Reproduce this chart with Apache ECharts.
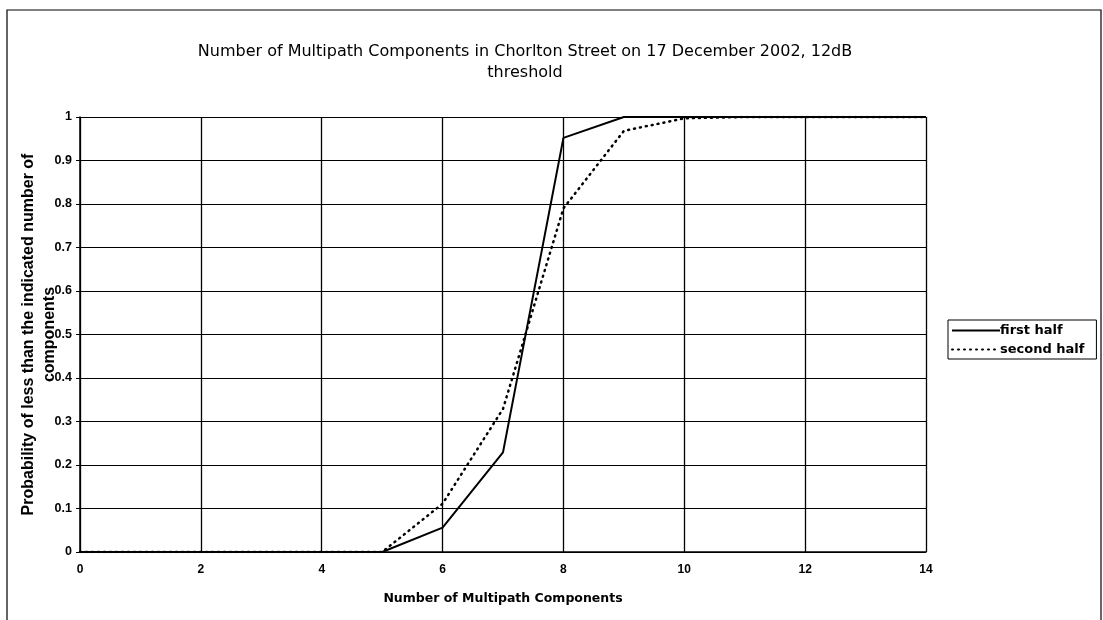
<!DOCTYPE html>
<html>
<head>
<meta charset="utf-8">
<script src="https://cdn.jsdelivr.net/npm/echarts@6/dist/echarts.min.js"></script>
<style>html,body{margin:0;padding:0;background:#fff;}#c{width:1103px;height:620px;}</style>
</head>
<body>
<div id="c"></div>
<script>
var xValues = [0, 1, 2, 3, 4, 5, 6, 7, 8, 9, 10, 11, 12, 13, 14];
var firstHalf = [0, 0, 0, 0, 0, 0, 0.056, 0.229, 0.952, 1.0, 1.0, 1.0, 1.0, 1.0, 1.0];
var secondHalf = [0, 0, 0, 0, 0, 0, 0.111, 0.329, 0.79, 0.968, 0.997, 1.0, 1.0, 1.0, 1.0];
var seriesNames = ['first half', 'second half'];
var titleText = 'Number of Multipath Components in Chorlton Street on 17 December 2002, 12dB\nthreshold';
var xAxisTitle = 'Number of Multipath Components';
var yAxisTitle = 'Probability of less than the indicated number of\ncomponents';

function pairs(xs, ys) { return xs.map(function (x, i) { return [x, ys[i]]; }); }

var chart = echarts.init(document.getElementById('c'));
chart.setOption({
  backgroundColor: '#fff',
  animation: false,
  title: {
    text: titleText,
    left: 520,
    textAlign: 'center',
    top: 36,
    textStyle: { fontFamily: 'DejaVu Sans', fontSize: 16, fontWeight: 'normal', color: '#000', lineHeight: 21, align: 'center' }
  },
  legend: {
    orient: 'vertical',
    left: 948,
    top: 320,
    itemWidth: 48,
    itemHeight: 14,
    itemGap: 6,
    padding: [4, 12, 3, 3],
    borderColor: '#000',
    borderWidth: 1,
    itemStyle: { color: 'transparent', borderWidth: 0, opacity: 0 },
    textStyle: { fontFamily: 'DejaVu Sans', fontSize: 13, fontWeight: 'bold', color: '#000', padding: [0, 0, 0, -5] },
    data: seriesNames
  },
  grid: { left: 80, right: 177, top: 117, bottom: 68, show: false, outerBoundsMode: 'none', containLabel: false },
  xAxis: {
    type: 'value',
    min: 0, max: 14, interval: 2,
    name: xAxisTitle,
    nameLocation: 'middle',
    nameGap: 40,
    nameMoveOverlap: false,
    nameTextStyle: { fontFamily: 'DejaVu Sans', fontSize: 12.5, fontWeight: 'bold', color: '#000' },
    axisLine: { show: true, lineStyle: { color: '#000', width: 1.5 } },
    axisTick: { show: false },
    axisLabel: { fontFamily: 'Liberation Sans', fontSize: 12, fontWeight: 'bold', color: '#000', margin: 12 },
    splitLine: { show: true, lineStyle: { color: '#000', width: 1.3 } }
  },
  yAxis: {
    type: 'value',
    min: 0, max: 1, interval: 0.1,
    name: yAxisTitle,
    nameLocation: 'middle',
    nameRotate: 90,
    nameGap: 20,
    nameMoveOverlap: false,
    nameTextStyle: { fontFamily: 'Liberation Sans', fontSize: 16, fontWeight: 'bold', color: '#000', lineHeight: 21 },
    axisLine: { show: true, lineStyle: { color: '#000', width: 1.5 } },
    axisTick: { show: true, length: 4, lineStyle: { color: '#000' } },
    axisLabel: { fontFamily: 'Liberation Sans', fontSize: 12.5, fontWeight: 'bold', color: '#000', margin: 8 },
    splitLine: { show: true, lineStyle: { color: '#000', width: 1.1 } }
  },
  series: [
    {
      name: seriesNames[0],
      type: 'line',
      data: pairs(xValues, firstHalf),
      symbol: 'none',
      lineStyle: { color: '#000', width: 2 },
      itemStyle: { color: '#000' },
      z: 3
    },
    {
      name: seriesNames[1],
      type: 'line',
      data: pairs(xValues, secondHalf),
      symbol: 'none',
      lineStyle: { color: '#000', width: 2.5, type: [1, 5], cap: 'round' },
      itemStyle: { color: '#000' },
      z: 3
    }
  ],
  graphic: [
    {
      type: 'polyline',
      shape: { points: [[7, 640], [7, 10], [1101, 10], [1101, 640]] },
      style: { stroke: '#000', lineWidth: 1.2, fill: null },
      silent: true
    }
  ]
});
</script>
</body>
</html>
